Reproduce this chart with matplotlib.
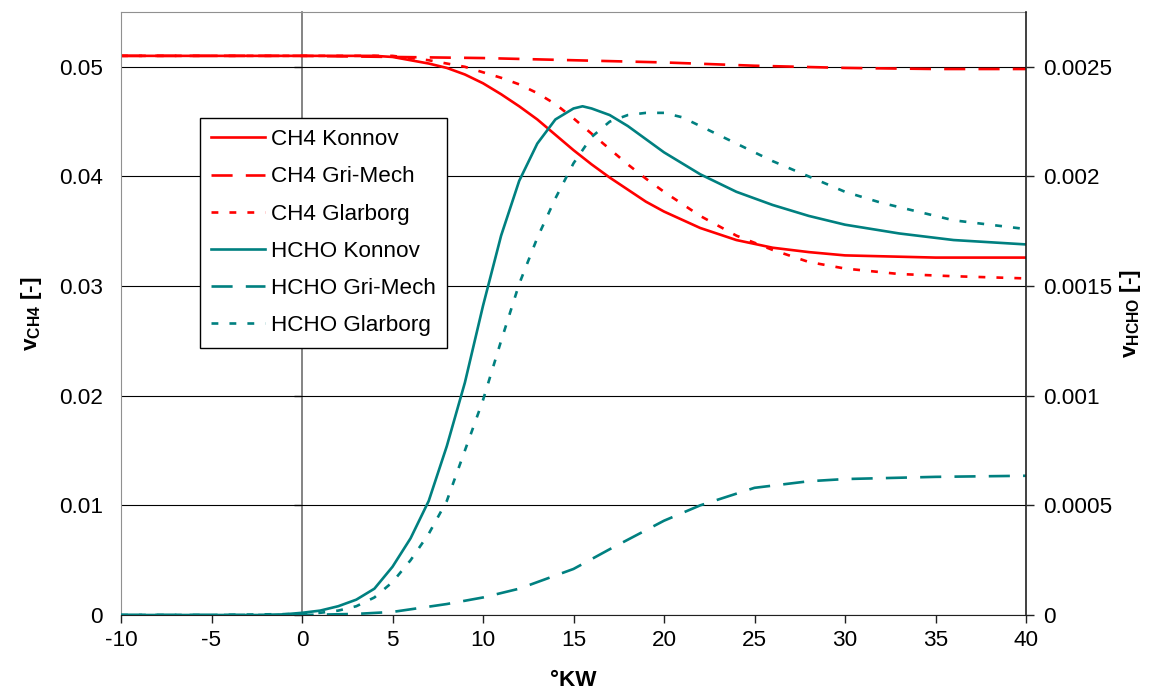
import matplotlib
matplotlib.use("Agg")
import matplotlib.pyplot as plt

plt.rcParams['font.family'] = ['Liberation Sans', 'DejaVu Sans']
plt.rcParams['mathtext.fontset'] = 'custom'
plt.rcParams['mathtext.rm'] = 'Liberation Sans'
plt.rcParams['mathtext.bf'] = 'Liberation Sans:bold'
plt.rcParams['mathtext.it'] = 'Liberation Sans:italic'

# ---- data ----
ch4_konnov_x = [-10, -5, 0, 2, 4, 5, 6, 7, 8, 9, 10, 11, 12, 13, 14, 15, 16, 17, 18, 19, 20, 22, 24, 26, 28, 30, 35, 40]
ch4_konnov_y = [0.0510, 0.0510, 0.0510, 0.0510, 0.0510, 0.0509, 0.0506, 0.0503, 0.0499, 0.0493, 0.0485, 0.0475, 0.0464,
                0.0452, 0.0438, 0.0424, 0.0411, 0.0399, 0.0388, 0.0377, 0.0368, 0.0353, 0.0342, 0.0335, 0.0331, 0.0328,
                0.0326, 0.0326]

ch4_gri_x = [-10, -5, 0, 5, 10, 15, 20, 25, 30, 35, 40]
ch4_gri_y = [0.0510, 0.0510, 0.0510, 0.0509, 0.0508, 0.0506, 0.0504, 0.0501, 0.0499, 0.0498, 0.0498]

ch4_glar_x = [-10, -5, 0, 5, 6, 7, 8, 9, 10, 11, 12, 13, 14, 15, 16, 17, 18, 19, 20, 22, 24, 26, 28, 30, 33, 36, 40]
ch4_glar_y = [0.0510, 0.0510, 0.0510, 0.0510, 0.0508, 0.0506, 0.0503, 0.0500, 0.0495, 0.0490, 0.0484, 0.0476, 0.0466,
              0.0453, 0.0439, 0.0425, 0.0411, 0.0398, 0.0386, 0.0364, 0.0346, 0.0333, 0.0322, 0.0316, 0.0311, 0.0309,
              0.0307]

hcho_konnov_x = [-10, -5, -2, -1, 0, 1, 2, 3, 4, 5, 6, 7, 8, 9, 10, 11, 12, 13, 14, 15, 15.5, 16, 17, 18, 19, 20, 22,
                 24, 26, 28, 30, 33, 36, 40]
hcho_konnov_y = [0.0, 0.0, 0.0, 0.000003, 0.00001, 0.00002, 0.00004, 0.00007, 0.00012, 0.00022, 0.00035, 0.00052,
                 0.00077, 0.00106, 0.00141, 0.00173, 0.00198, 0.00215, 0.00226, 0.00231, 0.00232, 0.00231, 0.00228,
                 0.00223, 0.00217, 0.00211, 0.00201, 0.00193, 0.00187, 0.00182, 0.00178, 0.00174, 0.00171, 0.00169]

hcho_gri_x = [-10, -5, 0, 3, 5, 8, 10, 12, 15, 17, 20, 22, 25, 28, 30, 35, 40]
hcho_gri_y = [0.0, 0.0, 0.0, 0.000005, 0.000014, 0.00005, 0.00008, 0.00012, 0.00021, 0.00030, 0.00043, 0.00050,
              0.00058, 0.00061, 0.00062, 0.00063, 0.000635]

hcho_glar_x = [-10, -5, 0, 1, 2, 3, 4, 5, 6, 7, 8, 9, 10, 11, 12, 13, 14, 15, 16, 17, 18, 19, 20, 21, 22, 24, 26, 28,
               30, 32, 34, 36, 38, 40]
hcho_glar_y = [0.0, 0.0, 0.000005, 0.00001, 0.00002, 0.00004, 0.00008, 0.00015, 0.00025, 0.00037, 0.00052, 0.00075,
               0.00098, 0.00125, 0.00151, 0.00172, 0.00190, 0.00206, 0.00218, 0.00225, 0.00228, 0.00229, 0.00229,
               0.00227, 0.00223, 0.00215, 0.00207, 0.00200, 0.00193, 0.00188, 0.00184, 0.00180, 0.00178, 0.00176]

x_ticks = [-10, -5, 0, 5, 10, 15, 20, 25, 30, 35, 40]
left_ticks = [0, 0.01, 0.02, 0.03, 0.04, 0.05]
left_labels = ['0', '0.01', '0.02', '0.03', '0.04', '0.05']
right_ticks = [0, 0.0005, 0.001, 0.0015, 0.002, 0.0025]
right_labels = ['0', '0.0005', '0.001', '0.0015', '0.002', '0.0025']
labels = ['CH4 Konnov', 'CH4 Gri-Mech', 'CH4 Glarborg', 'HCHO Konnov', 'HCHO Gri-Mech', 'HCHO Glarborg']

RED = '#FF0000'
TEAL = '#008080'
FS = 16.2
LFS = 16.2
LW = 1.9
DASH = (0, (8, 5))
DOT = (0, (2.6, 4.2))

fig = plt.figure(figsize=(11.66, 6.91), dpi=100)
pos = [121 / 1166, 76 / 691, (1026 - 121) / 1166, (615 - 12) / 691]

# axis line at x = 0 (value axis crossing)
ax3 = fig.add_axes(pos)
ax3.set_zorder(0.5)
ax = fig.add_axes(pos, sharex=ax3, sharey=ax3)
ax.set_zorder(1)
ax.patch.set_visible(False)

ax.set_xlim(-10, 40)
ax.set_ylim(0, 0.055)

for s in ['top', 'right', 'bottom']:
    ax3.spines[s].set_visible(False)
ax3.spines['left'].set_position(('data', 0))
ax3.spines['left'].set_color('#707070')
ax3.spines['left'].set_linewidth(1.2)
ax3.tick_params(axis='y', direction='out', length=5.8, width=1, color='#202020', labelleft=False)
ax3.tick_params(axis='x', bottom=False, labelbottom=False)
ax3.set_yticks(left_ticks)

ax.plot(ch4_konnov_x, ch4_konnov_y, color=RED, lw=LW, label=labels[0])
ax.plot(ch4_gri_x, ch4_gri_y, color=RED, lw=LW, ls=DASH, label=labels[1])
ax.plot(ch4_glar_x, ch4_glar_y, color=RED, lw=LW, ls=DOT, label=labels[2])

ax.set_yticks(left_ticks)
ax.set_yticklabels(left_labels)
ax.set_xticks(x_ticks)
ax.set_xticklabels([str(t) for t in x_ticks])
ax.yaxis.grid(True, color='black', lw=0.8)
ax.tick_params(axis='y', length=0, pad=13, labelsize=FS)
ax.tick_params(axis='x', direction='out', length=5.8, width=1, color='#202020', pad=5, labelsize=FS)
ax.spines['left'].set_color('#909090')
ax.spines['top'].set_color('#909090')
ax.spines['bottom'].set_color('#202020')
ax.spines['right'].set_visible(False)

ax2 = ax.twinx()
ax2.set_zorder(2)
ax2.set_ylim(0, 0.00275)
ax2.plot(hcho_konnov_x, hcho_konnov_y, color=TEAL, lw=LW, label=labels[3])
ax2.plot(hcho_gri_x, hcho_gri_y, color=TEAL, lw=LW, ls=DASH, label=labels[4])
ax2.plot(hcho_glar_x, hcho_glar_y, color=TEAL, lw=LW, ls=DOT, label=labels[5])
ax2.set_yticks(right_ticks)
ax2.set_yticklabels(right_labels)
ax2.tick_params(axis='y', direction='out', length=5.8, width=1, color='#202020', pad=6.5, labelsize=FS)
for s in ['left', 'top', 'bottom']:
    ax2.spines[s].set_visible(False)
ax2.spines['right'].set_color('#202020')
ax2.spines['right'].set_linewidth(1.2)

ax.set_xlabel('°KW', fontsize=FS, fontweight='bold', labelpad=14)
ax.set_ylabel(r'$\mathbf{v}_{\mathbf{CH4}}$ [-]', fontsize=FS, fontweight='bold', labelpad=11)
ax2.set_ylabel(r'$\mathbf{v}_{\mathbf{HCHO}}$ [-]', fontsize=FS, fontweight='bold', labelpad=4)

h1, l1 = ax.get_legend_handles_labels()
h2, l2 = ax2.get_legend_handles_labels()
leg = ax2.legend(h1 + h2, l1 + l2, loc='upper left', bbox_to_anchor=((200 - 121) / 905, (615 - 118) / 603),
                 fontsize=LFS, frameon=True, fancybox=False, framealpha=1, edgecolor='black',
                 handlelength=2.4, handletextpad=0.25, labelspacing=0.72, borderpad=0.5, borderaxespad=0)
leg.get_frame().set_linewidth(1.0)

fig.savefig('out.png', dpi=100, facecolor='white')
